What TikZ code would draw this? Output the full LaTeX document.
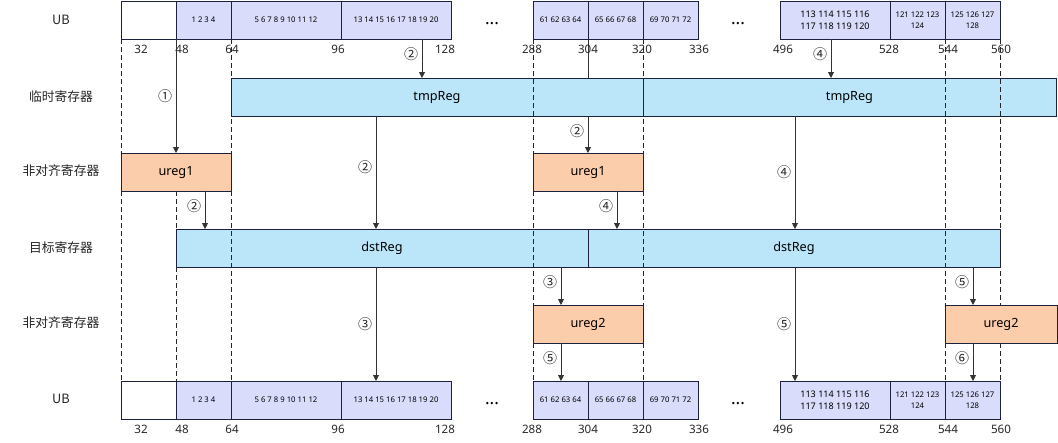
\documentclass[tikz,border=0pt]{standalone}
\usepackage{fontspec}
\setmainfont{Noto Sans}
\newfontfamily\cjk{Noto Sans CJK SC}
\usetikzlibrary{arrows.meta,positioning,backgrounds}
\definecolor{ubfill}{RGB}{217,220,250}
\definecolor{regfill}{RGB}{187,230,250}
\definecolor{ufill}{RGB}{252,205,170}
\definecolor{edge}{RGB}{28,34,62}

\begin{document}
\begin{tikzpicture}[x=0.75pt, y=-0.75pt,
    cell/.style={draw=edge, line width=0.75pt, rectangle, inner sep=0pt, outer sep=0pt, minimum height=28.5pt, align=center, fill=white},
    wd/.style={minimum width={#1*0.75pt}},
    ubcell/.style={cell, fill=ubfill, font=\fontsize{5.8}{8.2}\selectfont},
    reg/.style={cell, fill=regfill, font=\fontsize{9.5}{11}\selectfont},
    ureg/.style={cell, fill=ufill, font=\fontsize{9.5}{11}\selectfont},
    rowlabel/.style={font=\cjk\fontsize{9.6}{11}\selectfont, text=black!85},
    tick/.style={font=\fontsize{8.7}{10}\selectfont, text=black!85},
    stepno/.style={font=\cjk\fontsize{10.5}{12}\selectfont, text=black!85, inner sep=2.5pt},
    dots/.style={font=\fontsize{13}{14}\selectfont\bfseries},
    arr/.style={-{Triangle[length=4.5pt,width=4.5pt]}, line width=0.7pt, draw=black!80},
    guide/.style={dash pattern=on 3.5pt off 2.5pt, line width=0.7pt, draw=black!85}
]
\useasboundingbox (0,0) rectangle (1058,443);

% Row labels
\node[rowlabel] (lub1) at (61,20) {UB};
\node[rowlabel] (ltmp) at (61,97) {临时寄存器};
\node[rowlabel] (lu1) at (61,171) {非对齐寄存器};
\node[rowlabel] (ldst) at (61,248) {目标寄存器};
\node[rowlabel] (lu2) at (61,323) {非对齐寄存器};
\node[rowlabel] (lub2) at (61,399) {UB};

% UB (top)
\node[cell, wd=55, anchor=west] (t0) at (121,20) {};
\node[ubcell, wd=55, right=0pt of t0] (t1) {1 2 3 4};
\node[ubcell, wd=110, right=0pt of t1] (t2) {5 6 7 8 9 10 11 12};
\node[ubcell, wd=110, right=0pt of t2] (t3) {13 14 15 16 17 18 19 20};
\node[ubcell, wd=55, anchor=west] (t4) at (533,20) {61 62 63 64};
\node[ubcell, wd=55, right=0pt of t4] (t5) {65 66 67 68};
\node[ubcell, wd=55, right=0pt of t5] (t6) {69 70 71 72};
\node[ubcell, wd=110, anchor=west, font=\fontsize{6.8}{9}\selectfont] (t7) at (780,20) {113 114 115 116\\117 118 119 120};
\node[ubcell, wd=55, right=0pt of t7] (t8) {121 122 123\\124};
\node[ubcell, wd=55, right=0pt of t8] (t9) {125 126 127\\128};
\node[dots] (td1) at (492,24) {...};
\node[dots] (td2) at (738,24) {...};

% UB (bottom)
\node[cell, wd=55, anchor=west] (b0) at (121,400) {};
\node[ubcell, wd=55, right=0pt of b0] (b1) {1 2 3 4};
\node[ubcell, wd=110, right=0pt of b1] (b2) {5 6 7 8 9 10 11 12};
\node[ubcell, wd=110, right=0pt of b2] (b3) {13 14 15 16 17 18 19 20};
\node[ubcell, wd=55, anchor=west] (b4) at (533,400) {61 62 63 64};
\node[ubcell, wd=55, right=0pt of b4] (b5) {65 66 67 68};
\node[ubcell, wd=55, right=0pt of b5] (b6) {69 70 71 72};
\node[ubcell, wd=110, anchor=west, font=\fontsize{6.8}{9}\selectfont] (b7) at (780,400) {113 114 115 116\\117 118 119 120};
\node[ubcell, wd=55, right=0pt of b7] (b8) {121 122 123\\124};
\node[ubcell, wd=55, right=0pt of b8] (b9) {125 126 127\\128};
\node[dots] (bd1) at (492,404) {...};
\node[dots] (bd2) at (738,404) {...};

% Offsets
\foreach \v/\px in {32/141, 48/182, 64/232, 96/338, 128/445, 288/532, 304/588, 320/642, 336/699, 496/783, 528/889, 544/948, 560/1001} {
    \node[tick] (tt\v) at (\px,49) {\v};
    \node[tick] (bt\v) at (\px,429) {\v};
}

% Registers
\node[reg, wd=412, anchor=west] (tmp1) at (231,97) {tmpReg};
\node[reg, wd=413, right=0pt of tmp1] (tmp2) {tmpReg};
\node[ureg, wd=110, anchor=west] (u1a) at (121,172) {ureg1};
\node[ureg, wd=110, anchor=west] (u1b) at (533,172) {ureg1};
\node[reg, wd=412, anchor=west] (dst1) at (176,248) {dstReg};
\node[reg, wd=412, right=0pt of dst1] (dst2) {dstReg};
\node[ureg, wd=110, anchor=west] (u2a) at (533,324) {ureg2};
\node[ureg, wd=112, anchor=west] (u2b) at (945,324) {ureg2};

% Guide lines
\draw[guide] (t0.south west) -- (u1a.north west);
\draw[guide] (u1a.south west) -- (b0.north west);
\draw[guide] (u1a.south -| dst1.west) -- (dst1.north west);
\draw[guide] (dst1.south west) -- (b1.north west);
\draw[guide] (t2.south west) -- (u1a.north east);
\draw[guide] (u1a.south east) -- (b2.north west);
\draw[guide] (t4.south west) -- (u1b.north west);
\draw[guide] (u1b.south west) -- (u2a.north west);
\draw[guide] (u2a.south west) -- (b4.north west);
\draw[guide] (t6.south west) -- (u1b.north east);
\draw[guide] (u1b.south east) -- (u2a.north east);
\draw[guide] (u2a.south east) -- (b6.north west);
\draw[guide] (t9.south west) -- (u2b.north west);
\draw[guide] (u2b.south west) -- (b9.north west);
\draw[guide] (t9.south east) -- (u2b.north -| t9.east);
\draw[guide] (u2b.south -| t9.east) -- (b9.north east);

% Data moves
\coordinate (xa) at (422,0);
\coordinate (xb) at (376,0);
\coordinate (xc) at (205,0);
\coordinate (xd) at (831,0);
\coordinate (xe) at (795,0);
\coordinate (xf) at (617,0);
\coordinate (xg) at (561,0);
\coordinate (xh) at (973,0);

\draw[arr] (t1.south west) -- (u1a.north -| t1.west) node[midway, left, stepno] (n1) {①};
\draw[arr] (t3.south -| xa) -- (tmp1.north -| xa) node[pos=0.4, left, stepno] (n2) {②};
\draw[arr] (tmp1.south -| xb) -- (dst1.north -| xb) node[pos=0.45, left, stepno] (n3) {②};
\draw[arr] (u1a.south -| xc) -- (dst1.north -| xc) node[pos=0.4, left, stepno] (n4) {②};
\begin{scope}[on background layer]
\draw[arr] (t5.south west) -- (u1b.north -| t5.west) node[pos=0.81, left, stepno] (n5) {②};
\end{scope}
\draw[arr] (t7.south -| xd) -- (tmp2.north -| xd) node[pos=0.4, left, stepno] (n6) {④};
\draw[arr] (tmp2.south -| xe) -- (dst2.north -| xe) node[midway, left, stepno] (n7) {④};
\draw[arr] (u1b.south -| xf) -- (dst2.north -| xf) node[pos=0.4, left, stepno] (n8) {④};
\draw[arr] (dst1.south -| xb) -- (b3.north -| xb) node[midway, left, stepno] (n9) {③};
\draw[arr] (dst1.south -| xg) -- (u2a.north -| xg) node[pos=0.4, left, stepno] (n10) {③};
\draw[arr] (u2a.south -| xg) -- (b4.north -| xg) node[pos=0.4, left, stepno] (n11) {⑤};
\draw[arr] (dst2.south -| xe) -- (b7.north -| xe) node[midway, left, stepno] (n12) {⑤};
\draw[arr] (dst2.south -| xh) -- (u2b.north -| xh) node[pos=0.4, left, stepno] (n13) {⑤};
\draw[arr] (u2b.south -| xh) -- (b9.north -| xh) node[pos=0.4, left, stepno] (n14) {⑥};

\end{tikzpicture}
\end{document}
